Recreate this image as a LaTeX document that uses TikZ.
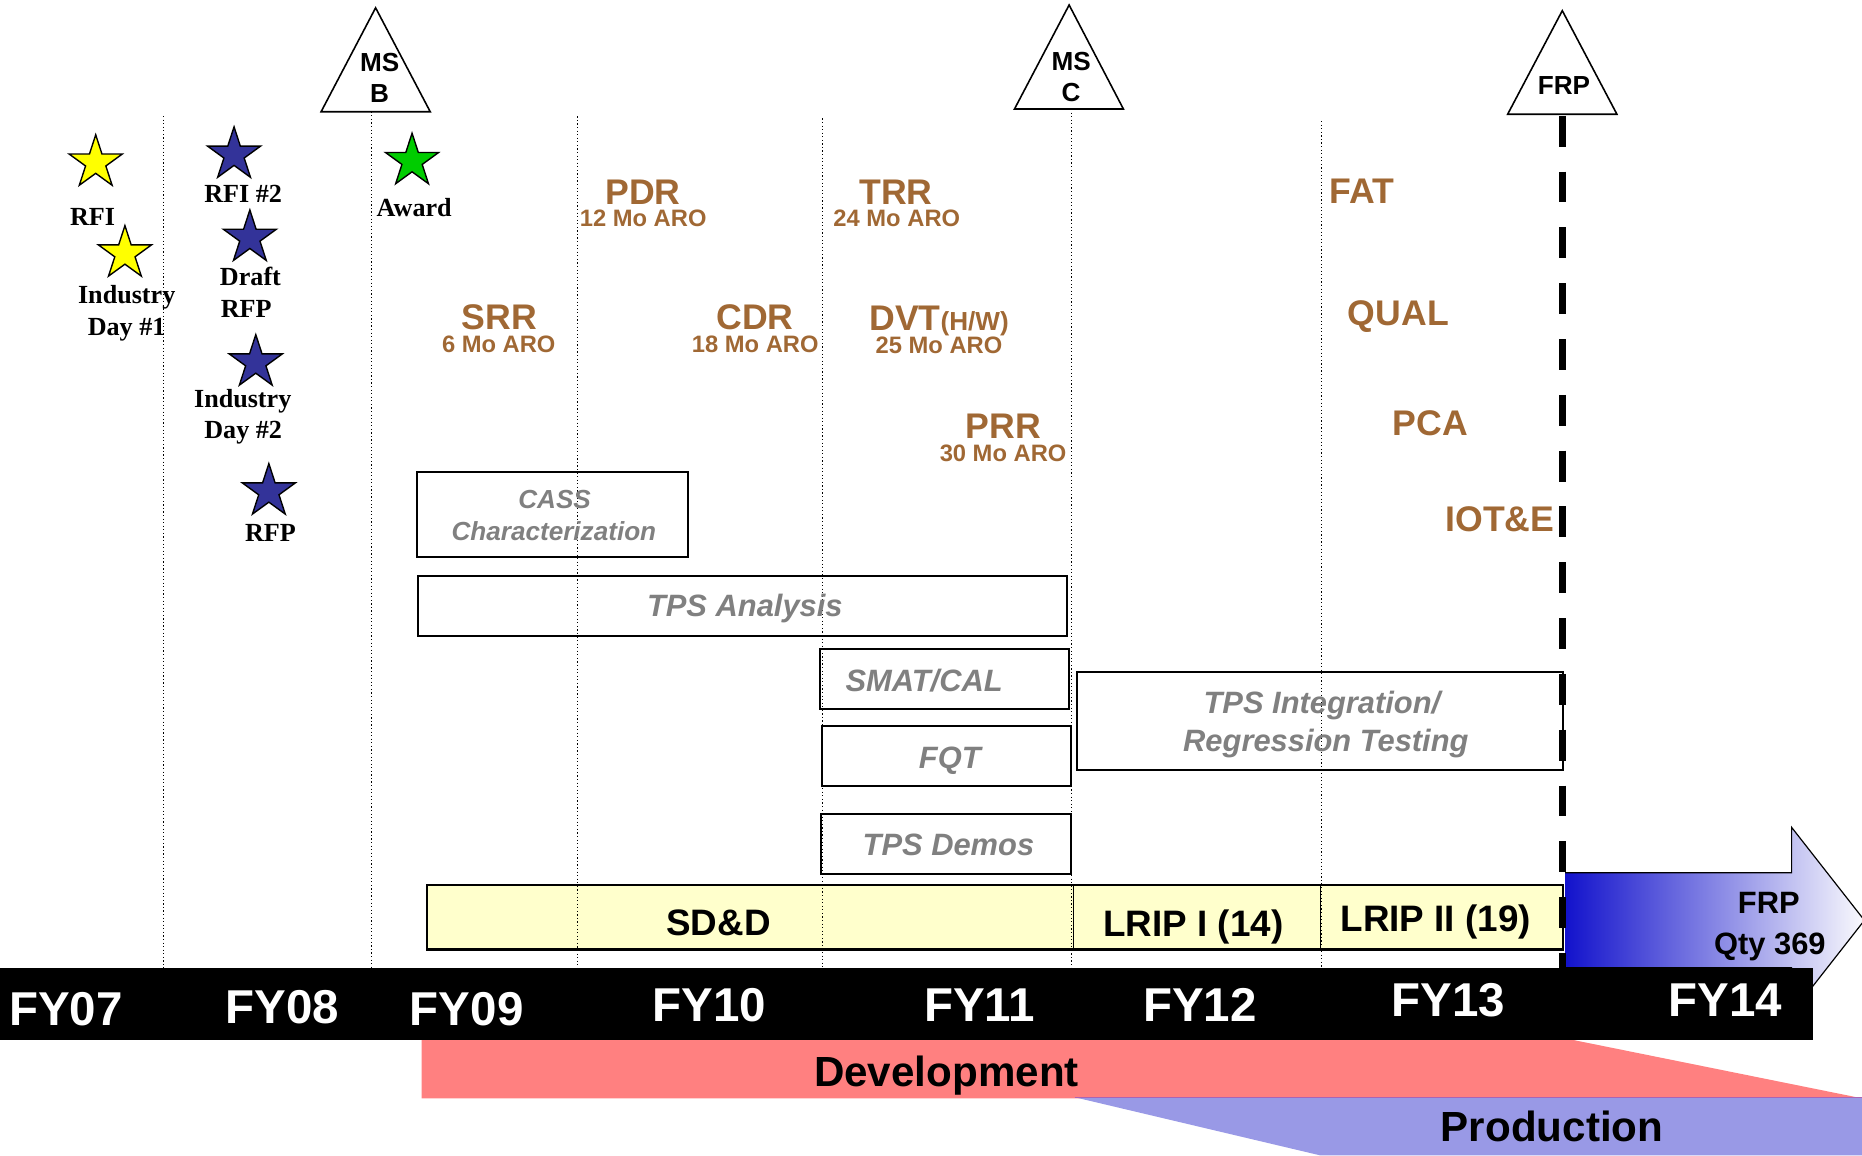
\documentclass[tikz,border=0pt]{standalone}
\usepackage{fontspec}
\setmainfont{Liberation Serif}
\newfontfamily\arialf{Liberation Sans}
\usetikzlibrary{shapes.geometric}
\definecolor{brownc}{RGB}{160,104,52}
\definecolor{pinkc}{RGB}{255,128,128}
\definecolor{prodc}{RGB}{153,153,230}
\definecolor{sdyel}{RGB}{255,255,204}
\definecolor{starblue}{RGB}{51,51,153}
\definecolor{stargreen}{RGB}{0,204,0}
\definecolor{staryellow}{RGB}{255,255,0}
\definecolor{grayt}{RGB}{128,128,128}
\definecolor{arrowblue}{RGB}{18,18,204}
\definecolor{arrowmid}{RGB}{175,175,228}
\definecolor{arrowend}{RGB}{250,250,253}
\definecolor{darkred}{RGB}{180,30,30}
\definecolor{purpl}{RGB}{170,100,180}
\begin{document}
\begin{tikzpicture}[x=0.6pt,y=-0.6pt,
  txt/.style={inner sep=0pt,anchor=base},
  fy/.style={txt,text=white,font=\arialf\bfseries\fontsize{24}{24}\selectfont},
  bbig/.style={txt,text=brownc,font=\arialf\bfseries\fontsize{18}{18}\selectfont},
  bsmall/.style={txt,text=brownc,font=\arialf\bfseries\fontsize{12}{12}\selectfont},
  tlab/.style={txt,font=\bfseries\fontsize{13.2}{13.2}\selectfont},
  gtext/.style={txt,text=grayt,font=\arialf\bfseries\itshape\fontsize{15.6}{15.6}\selectfont},
  gsmall/.style={txt,text=grayt,font=\arialf\bfseries\itshape\fontsize{13.2}{13.2}\selectfont},
  mstext/.style={txt,font=\arialf\bfseries\fontsize{13.2}{13.2}\selectfont},
  bartext/.style={txt,font=\arialf\bfseries\fontsize{18.6}{18.6}\selectfont},
  devtext/.style={txt,font=\arialf\bfseries\fontsize{21.3}{21.3}\selectfont},
  frptext/.style={txt,font=\arialf\bfseries\fontsize{15.6}{15.6}\selectfont},
  starnode/.style={star,star points=5,star point ratio=2.618,minimum size=28.2pt,inner sep=0pt,draw=black,line width=0.7pt},
  gbox/.style={draw=black,line width=1.1pt},
  msbox/.style={draw=black,line width=0.8pt,fill=white},
  vdot/.style={line width=0.55pt,dash pattern=on 0.6pt off 1.2pt},
  frpdash/.style={line width=3.6pt,dash pattern=on 15.6pt off 12.6pt}
]
\useasboundingbox (0,0) rectangle (1568,973);

% Development / Production bands
\fill[pinkc] (355,874.4) -- (1318,874.4) -- (1568,924.9) -- (355,924.9) -- cycle;
\draw[darkred,line width=0.9pt] (355,875.2) -- (1318,875.2);
\fill[prodc] (905,924) -- (1568,924) -- (1568,973) -- (1112,973) -- cycle;
\draw[purpl,line width=0.9pt] (905,924.2) -- (1568,924.2);

% FRP arrow
\coordinate (arrowL) at (1318,775);
\shade[left color=arrowblue,middle color=arrowmid,right color=arrowend]
  (1318,735) -- (1508.7,735) -- (1508.7,696.7) -- (1570,775) -- (1508.7,853.3) -- (1508.7,815) -- (1318,815) -- cycle;
\draw[line width=0.6pt]
  (1318,735) -- (1508.7,735) -- (1508.7,696.7) -- (1570,775) -- (1508.7,853.3) -- (1508.7,815) -- (1318,815);

% black FY bar
\fill[black] (0,815.5) rectangle (1527,875.5);

% Activity boxes
\draw[gbox] (351.4,397.2) rectangle (579.6,469.3);
\draw[gbox] (352.3,485.3) rectangle (898.4,535.9);
\draw[gbox] (690.6,546.8) rectangle (900,597.3);
\draw[gbox] (692.2,611.4) rectangle (902,661.6);
\draw[gbox] (691.5,685.5) rectangle (902,736);
\draw[gbox] (906.9,566.2) rectangle (1316,648.4);

% SD&D / LRIP bar
\draw[line width=1.2pt,fill=sdyel] (359.6,745) rectangle (1316,799.5);
\draw[line width=0.6pt] (904,745) -- (904,799.5);
\draw[line width=0.6pt] (1112,745) -- (1112,799.5);

% Milestone triangles
\draw[msbox] (316.3,6.6) -- (362.3,94.1) -- (270.4,94.1) -- cycle;
\draw[msbox] (900.3,4.2) -- (946,91.8) -- (854.3,91.8) -- cycle;
\draw[msbox] (1315.6,9) -- (1361.6,96.2) -- (1269.6,96.2) -- cycle;
\coordinate (msbBase) at (313,94.1);
\coordinate (mscBase) at (902,91.8);
\coordinate (frpBase) at (1315.6,97.5);

% dotted year lines
\coordinate (v1) at (137.5,97.7);
\coordinate (v3) at (486,98);
\coordinate (v4) at (692.6,99.7);
\coordinate (v6) at (1112.5,102);
\foreach \c in {v1,msbBase,v3,v4,mscBase,v6}{
  \draw[vdot] (\c) -- (\c |- 0,815.5);
}
% FRP dashed line
\coordinate (frpEnd) at (1315.6,815.5);
\draw[frpdash] (frpBase) -- (frpEnd);

% triangle texts
\node[mstext] (msb1) at (319.7,60.2) {MS};
\node[mstext] (msb2) at (319.7,86.6) {B};
\node[mstext] (msc1) at (902,59) {MS};
\node[mstext] (msc2) at (902,85.6) {C};
\node[mstext] (frpt) at (1317,79.7) {FRP};

% stars
\node[starnode,fill=staryellow] (s1) at (80.6,137) {};
\node[starnode,fill=staryellow] (s2) at (105.2,213.5) {};
\node[starnode,fill=starblue] (s3) at (197.1,130.3) {};
\node[starnode,fill=starblue] (s4) at (210.4,200.3) {};
\node[starnode,fill=starblue] (s5) at (215.4,305.3) {};
\node[starnode,fill=starblue] (s6) at (226.4,413.9) {};
\node[starnode,fill=stargreen] (s7) at (347,135.7) {};

% star labels
\node[tlab] (l1) at (77.9,189.5) {RFI};
\node[tlab] (l2a) at (106.7,255.6) {Industry};
\node[tlab] (l2b) at (106.6,282.7) {Day \#1};
\node[tlab] (l3) at (204.8,170.5) {RFI \#2};
\node[tlab] (l4a) at (210.9,240.6) {Draft};
\node[tlab] (l4b) at (207.3,267) {RFP};
\node[tlab] (l5a) at (204.4,342.8) {Industry};
\node[tlab] (l5b) at (204.8,369.3) {Day \#2};
\node[tlab] (l6) at (227.8,456.3) {RFP};
\node[tlab] (l7) at (348.8,182.5) {Award};

% review milestones
\node[bbig] (srr) at (420.6,277.3) {SRR};
\node[bsmall] (srr2) at (420,297) {6 Mo ARO};
\node[bbig] (pdr) at (541.5,171.8) {PDR};
\node[bsmall] (pdr2) at (541.6,191) {12 Mo ARO};
\node[bbig] (cdr) at (635.7,277.3) {CDR};
\node[bsmall] (cdr2) at (636,297) {18 Mo ARO};
\node[bbig] (trr) at (754.5,171.8) {TRR};
\node[bsmall] (trr2) at (755.2,191) {24 Mo ARO};
\node[bbig,anchor=base west] (dvt) at (731.7,278) {DVT{\fontsize{13.2}{13.2}\selectfont(H/W)}};
\node[bsmall] (dvt2) at (790.7,298) {25 Mo ARO};
\node[bbig] (prr) at (844.9,369) {PRR};
\node[bsmall] (prr2) at (844.7,388.5) {30 Mo ARO};
\node[bbig] (fat) at (1146.8,171.4) {FAT};
\node[bbig] (qual) at (1177.5,274.3) {QUAL};
\node[bbig] (pca) at (1204.6,367) {PCA};
\node[bbig] (iote) at (1263,448) {IOT\&E};

% activity texts
\node[gsmall] (cass1) at (467,428) {CASS};
\node[gsmall] (cass2) at (466.4,455.3) {Characterization};
\node[gtext] (tpsa) at (627.2,519.3) {TPS Analysis};
\node[gtext] (smat) at (778.2,582.5) {SMAT/CAL};
\node[gtext] (fqt) at (799.8,647) {FQT};
\node[gtext] (demos) at (798.7,720) {TPS Demos};
\node[gtext] (integ1) at (1113.2,600.7) {TPS Integration/};
\node[gtext] (integ2) at (1116.5,633) {Regression Testing};

% bar texts
\node[bartext] (sdd) at (605,787.4) {SD\&D};
\node[bartext] (lrip1) at (1005,788.5) {LRIP I (14)};
\node[bartext] (lrip2) at (1209,784.5) {LRIP II (19)};
\node[frptext] (frp1) at (1489.5,769) {FRP};
\node[frptext] (frp2) at (1490.4,804) {Qty 369};

% FY labels
\node[fy] (fy07) at (55.5,863.4) {FY07};
\node[fy] (fy08) at (238,862) {FY08};
\node[fy] (fy09) at (393,863.4) {FY09};
\node[fy] (fy10) at (597.5,860.6) {FY10};
\node[fy] (fy11) at (825,860.6) {FY11};
\node[fy] (fy12) at (1010.5,860.6) {FY12};
\node[fy] (fy13) at (1219.5,856.4) {FY13};
\node[fy] (fy14) at (1453,856.4) {FY14};

% phase labels
\node[devtext] (dev) at (797,915) {Development};
\node[devtext] (prod) at (1307,961) {Production};
\end{tikzpicture}
\end{document}
